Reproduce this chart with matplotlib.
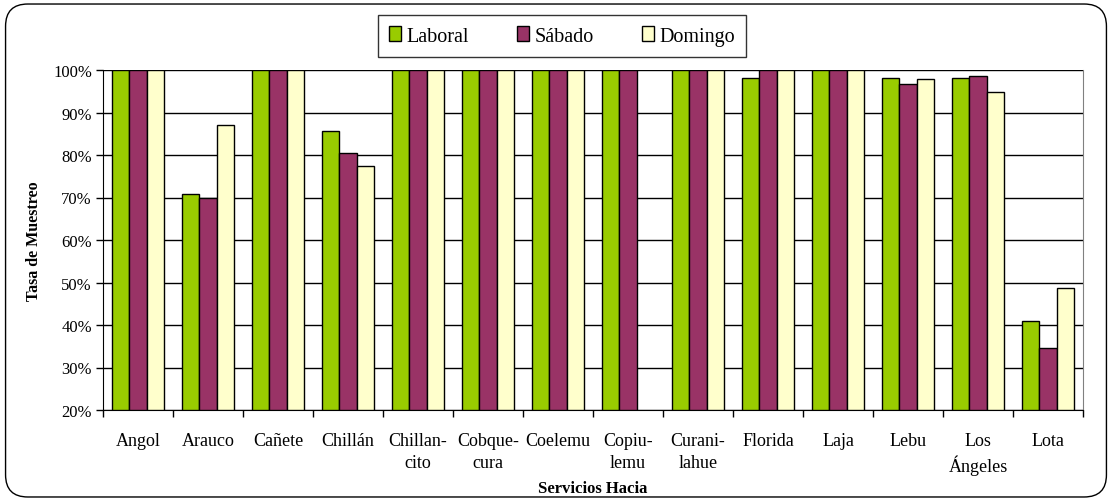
import numpy as np
import matplotlib
matplotlib.use("Agg")
import matplotlib.pyplot as plt
from matplotlib.patches import FancyBboxPatch, Patch

categories = ["Angol", "Arauco", "Cañete", "Chillán", "Chillan-\ncito", "Cobque-\ncura",
              "Coelemu", "Copiu-\nlemu", "Curani-\nlahue", "Florida", "Laja", "Lebu",
              "Los\nÁngeles", "Lota"]
laboral = [100, 70.8, 100, 85.6, 100, 100, 100, 100, 100, 98.1, 100, 98.1, 98.1, 40.9]
sabado = [100, 69.8, 100, 80.5, 100, 100, 100, 100, 100, 100, 100, 96.8, 98.7, 34.6]
domingo = [100, 87.1, 100, 77.5, 100, 100, 100, np.nan, 100, 100, 100, 98.0, 94.9, 48.7]
series_names = ["Laboral", "Sábado", "Domingo"]
colors = ["#99CC00", "#993366", "#FFFFCC"]
yticks = [20, 30, 40, 50, 60, 70, 80, 90, 100]

plt.rcParams['font.family'] = ['Liberation Serif', 'DejaVu Serif']

fig = plt.figure(figsize=(11.12, 5.02), dpi=100)
ax = fig.add_axes([103/1112, 1-411/502, 980/1112, 340/502])

# rounded border
border = FancyBboxPatch((0.005, 0.008), 0.99, 0.982, boxstyle="round,pad=0,rounding_size=0.02",
                        transform=fig.transFigure, fill=False, edgecolor="black", linewidth=1.0,
                        mutation_aspect=1112/502)
fig.patches.append(border)

x = np.arange(len(categories))
w = 0.245
for i, (vals, c) in enumerate(zip([laboral, sabado, domingo], colors)):
    v = np.array(vals, dtype=float)
    ax.bar(x + (i - 1) * w, v - 20, w, bottom=20, color=c, edgecolor="black", linewidth=1.0, zorder=3)

ax.set_xlim(-0.5, len(categories) - 0.5)
ax.set_ylim(20, 100)
ax.set_yticks(yticks)
ax.set_yticklabels([f"{t}%" for t in yticks], fontsize=12)
ax.yaxis.grid(True, color="black", linewidth=1.0, zorder=0)
ax.set_axisbelow(True)

ax.set_xticks(x)
ax.set_xticklabels(categories, fontsize=13, linespacing=1.35, va="top")
ax.tick_params(axis="x", length=0, pad=16)
ax.set_xticks(np.arange(-0.5, len(categories)), minor=True)
ax.tick_params(axis="x", which="minor", length=5, width=1, color="black", direction="out")
ax.tick_params(axis="y", length=5, width=1, direction="out", pad=3)

ax.spines["top"].set_visible(False)
ax.spines["right"].set_color("#808080")
ax.spines["left"].set_color("black")
ax.spines["bottom"].set_color("black")

ax.set_ylabel("Tasa de Muestreo", fontsize=11.5, fontweight="bold", labelpad=8)
ax.set_xlabel("Servicios Hacia", fontsize=12, fontweight="bold")
ax.xaxis.set_label_coords(0.5, -0.205)

handles = [Patch(facecolor=c, edgecolor="black", label=n) for n, c in zip(series_names, colors)]
leg = fig.legend(handles=handles, loc="center", bbox_to_anchor=(562/1112, 1-37/502), ncol=3,
                 fontsize=14.5, frameon=True, fancybox=False, edgecolor="black",
                 handlelength=0.6, handleheight=0.7, handletextpad=0.25, columnspacing=2.4,
                 borderpad=0.55, borderaxespad=0)
leg.get_frame().set_linewidth(1.0)

fig.savefig("out.png", dpi=100)
